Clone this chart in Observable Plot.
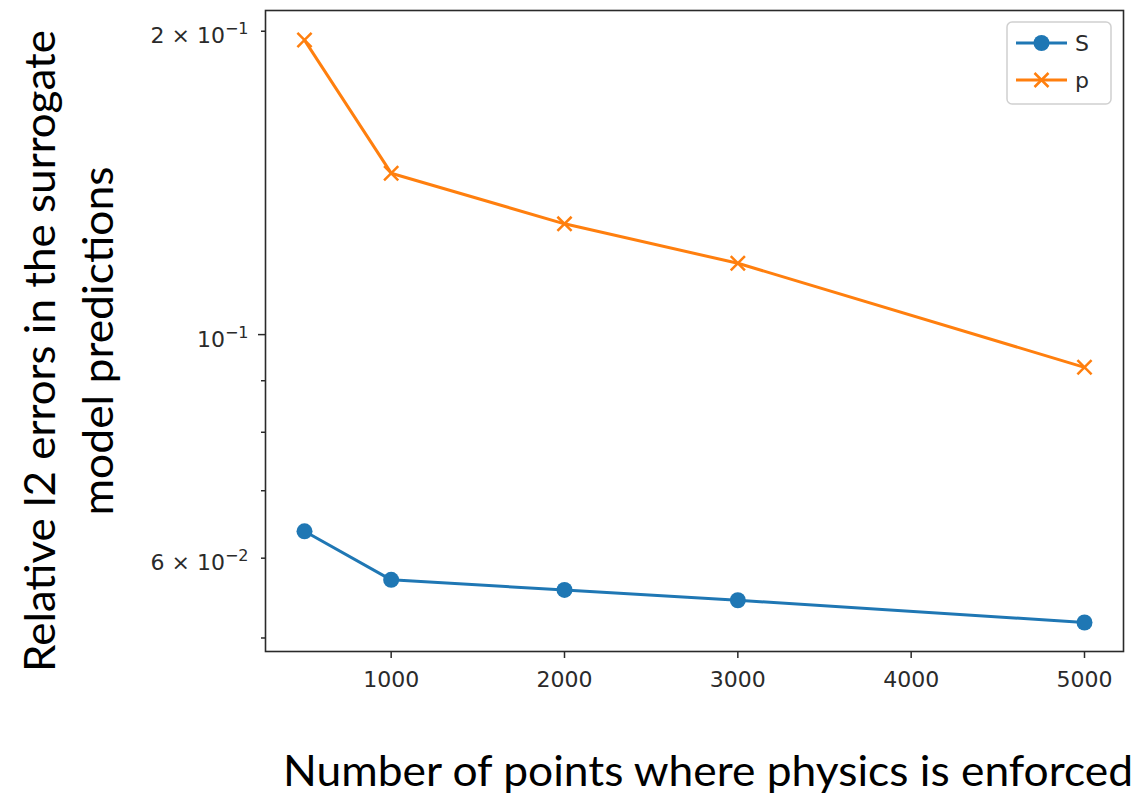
<!DOCTYPE html>
<html>
<head>
<meta charset="utf-8">
<script src="https://cdn.jsdelivr.net/npm/d3@7"></script>
<script src="https://cdn.jsdelivr.net/npm/@observablehq/plot@0.6"></script>
<style>
  html, body { margin: 0; padding: 0; background: #fff; }
  #chart { width: 1137px; height: 795px; }
</style>
</head>
<body>
<div id="chart"></div>
<script>
// ---- data ----
const points = [500, 1000, 2000, 3000, 5000];
const errS = [0.0638, 0.0571, 0.0558, 0.0545, 0.0518];
const errP = [0.196, 0.1446, 0.1288, 0.1177, 0.0928];
const seriesNames = ["S", "p"];
const seriesColors = ["#1f77b4", "#ff7f0e"];
const xTicks = [1000, 2000, 3000, 4000, 5000];
const yMajorTicks = [0.1];
const yMinorTicks = [0.05, 0.06, 0.07, 0.08, 0.09, 0.2];
const yLabelTicks = [0.06, 0.1, 0.2];
const yLabelMantissa = ["6 × 10", "10", "2 × 10"];
const yLabelExponent = ["−2", "−1", "−1"];
const xTitle = "Number of points where physics is enforced";
const yTitleLines = ["Relative l2 errors in the surrogate", "model predictions"];

const rows = points.flatMap((x, i) => [
  {x, y: errS[i], series: seriesNames[0]},
  {x, y: errP[i], series: seriesNames[1]}
]);
const rowsS = rows.filter(d => d.series === seriesNames[0]);
const rowsP = rows.filter(d => d.series === seriesNames[1]);

const tickFont = "DejaVu Sans";
const tickColor = "#2a2a2a";

const plot = Plot.plot({
  width: 1137,
  height: 795,
  marginLeft: 265,
  marginRight: 14,
  marginTop: 10,
  marginBottom: 144,
  style: {fontFamily: tickFont, color: tickColor, background: "#fff"},
  x: {domain: [275, 5225]},
  y: {type: "log", domain: [0.04848, 0.2097]},
  marks: [
    Plot.axisX({ticks: xTicks, tickSize: 7, tickPadding: 13, strokeWidth: 1.5,
      tickFormat: d => String(d), fontSize: 22, label: null}),
    Plot.axisY({ticks: yMajorTicks, tickSize: 7, strokeWidth: 1.5, tickFormat: () => "", label: null}),
    Plot.axisY({ticks: yMinorTicks, tickSize: 4, strokeWidth: 1.5, tickFormat: () => "", label: null}),
    Plot.axisY({ticks: yLabelTicks, tickSize: 0, tickPadding: 17, fontSize: 22, dy: 5, label: null,
      tickFormat: d => {
        const i = yLabelTicks.indexOf(d);
        return yLabelMantissa[i] + "^" + yLabelExponent[i];
      }}),
    Plot.frame({stroke: "#2a2a2a", strokeWidth: 1.6}),
    Plot.line(rowsS, {x: "x", y: "y", stroke: seriesColors[0], strokeWidth: 3}),
    Plot.dot(rowsS, {x: "x", y: "y", r: 8, fill: seriesColors[0], stroke: "none"}),
    Plot.line(rowsP, {x: "x", y: "y", stroke: seriesColors[1], strokeWidth: 3}),
    Plot.dot(rowsP, {x: "x", y: "y", r: 6.5, symbol: "times", stroke: seriesColors[1], strokeWidth: 2.5})
  ]
});

document.getElementById("chart").appendChild(plot);
const svg = d3.select(plot);

// superscript exponents on y tick labels
svg.selectAll("text").each(function() {
  const t = d3.select(this);
  const s = t.text();
  if (s.includes("^")) {
    const [m, e] = s.split("^");
    t.text(null);
    t.append("tspan").text(m);
    t.append("tspan").attr("dy", -9).attr("font-size", 16).text(e);
  }
});

// axis titles
const titleFont = "Lato";
svg.append("text")
  .attr("x", 708).attr("y", 786)
  .attr("text-anchor", "middle")
  .attr("font-family", titleFont).attr("font-size", 42)
  .attr("fill", "#000")
  .attr("textLength", 850).attr("lengthAdjust", "spacingAndGlyphs")
  .text(xTitle);

const yLens = [642, 349];
const yCenters = [[55, 351], [113, 341]];
yTitleLines.forEach((line, i) => {
  svg.append("text")
    .attr("transform", `translate(${yCenters[i][0]},${yCenters[i][1]}) rotate(-90)`)
    .attr("text-anchor", "middle")
    .attr("font-family", titleFont).attr("font-size", 42)
    .attr("fill", "#000")
    .attr("textLength", yLens[i]).attr("lengthAdjust", "spacingAndGlyphs")
    .text(line);
});

// legend
const lg = svg.append("g").attr("class", "legend");
lg.append("rect")
  .attr("x", 1007).attr("y", 22).attr("width", 104).attr("height", 82)
  .attr("rx", 5).attr("fill", "#fff").attr("fill-opacity", 0.85)
  .attr("stroke", "#d0d0d0").attr("stroke-width", 1.5);
const legendY = [43, 80];
seriesNames.forEach((name, i) => {
  const y = legendY[i];
  lg.append("line").attr("x1", 1016).attr("x2", 1067).attr("y1", y).attr("y2", y)
    .attr("stroke", seriesColors[i]).attr("stroke-width", 3);
  if (i === 0) {
    lg.append("circle").attr("cx", 1041.5).attr("cy", y).attr("r", 8).attr("fill", seriesColors[i]);
  } else {
    const r = 7;
    lg.append("path")
      .attr("d", `M${1041.5 - r},${y - r}L${1041.5 + r},${y + r}M${1041.5 - r},${y + r}L${1041.5 + r},${y - r}`)
      .attr("stroke", seriesColors[i]).attr("stroke-width", 2.5).attr("fill", "none");
  }
  lg.append("text").attr("x", 1082).attr("y", y).attr("dy", "0.36em")
    .attr("font-family", tickFont).attr("font-size", 22).attr("fill", tickColor)
    .text(name);
});
</script>
</body>
</html>
